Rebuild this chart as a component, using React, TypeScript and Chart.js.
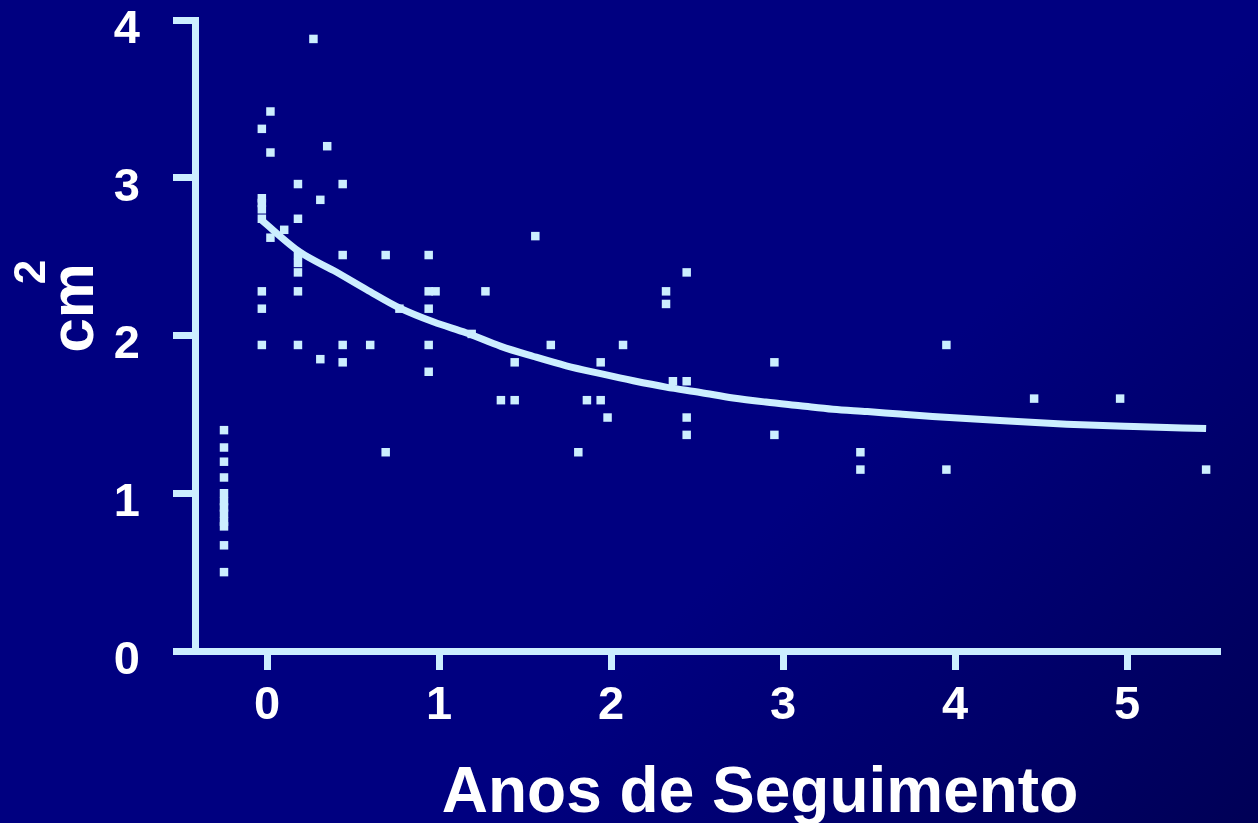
import React, { useEffect, useRef } from "react";
import { Chart, registerables } from "chart.js";

Chart.register(...registerables);

// ---- data ----
const xTickValues = [0, 1, 2, 3, 4, 5];
const yTickValues = [0, 1, 2, 3, 4];
const xTitle = "Anos de Seguimento";
const yTitleMain = "cm";
const yTitleSup = "2";

// scatter observations (years of follow-up, area cm²)
const obsX = [
  -0.25, -0.25, -0.25, -0.25, -0.25, -0.25, -0.25, -0.25, -0.25, -0.25, -0.25, -0.25,
  -0.03, -0.03, -0.03, -0.03, -0.03, -0.03, -0.03, -0.03,
  0.02, 0.02, 0.02,
  0.1,
  0.18, 0.18, 0.18, 0.18, 0.18, 0.18, 0.18,
  0.27, 0.35, 0.31, 0.31,
  0.44, 0.44, 0.44, 0.44,
  0.6, 0.69, 0.69, 0.77,
  0.94, 0.94, 0.94, 0.94, 0.94, 0.98,
  1.19, 1.27, 1.36, 1.44, 1.44, 1.56, 1.65,
  1.81, 1.86, 1.94, 1.94, 1.98, 2.07,
  2.32, 2.32, 2.36, 2.44, 2.44, 2.44, 2.44,
  2.95, 2.95, 3.45, 3.45, 3.95, 3.95, 4.46, 4.96, 5.46,
];
const obsY = [
  1.4, 1.29, 1.2, 1.1, 1.0, 0.95, 0.91, 0.87, 0.82, 0.79, 0.67, 0.5,
  3.31, 2.87, 2.84, 2.8, 2.74, 2.28, 2.17, 1.94,
  3.42, 3.16, 2.62,
  2.67,
  2.96, 2.74, 2.51, 2.46, 2.4, 2.28, 1.94,
  3.88, 3.2, 2.86, 1.85,
  2.96, 2.51, 1.94, 1.83,
  1.94, 2.51, 1.26, 2.17,
  2.51, 2.28, 2.17, 1.94, 1.77, 2.28,
  2.01, 2.28, 1.59, 1.83, 1.59, 2.63, 1.94,
  1.26, 1.59, 1.83, 1.59, 1.48, 1.94,
  2.28, 2.2, 1.71, 2.4, 1.71, 1.48, 1.37,
  1.83, 1.37, 1.26, 1.15, 1.94, 1.15, 1.6, 1.6, 1.15,
];

// fitted trend curve
const trendX = [-0.03, 0.19, 0.39, 0.58, 0.77, 0.97, 1.16, 1.36, 1.55, 1.74, 1.94, 2.13, 2.32, 2.52, 2.71, 2.9, 3.1, 3.29, 3.49, 3.68, 3.87, 4.26, 4.65, 5.04, 5.46];
const trendY = [2.73, 2.53, 2.41, 2.29, 2.175, 2.085, 2.016, 1.931, 1.867, 1.808, 1.758, 1.713, 1.673, 1.639, 1.604, 1.578, 1.555, 1.533, 1.518, 1.502, 1.487, 1.461, 1.438, 1.423, 1.41];

const LIGHT = "#CCEEFF";
const FONT = "'Liberation Sans', Arial, Helvetica, sans-serif";

const titlePlugin = {
  id: "customTitles",
  afterDraw(chart: any) {
    const ctx = chart.ctx as CanvasRenderingContext2D;
    ctx.save();
    ctx.fillStyle = "#FFFFFF";
    ctx.textAlign = "center";
    ctx.textBaseline = "alphabetic";
    ctx.font = `bold 64px ${FONT}`;
    ctx.fillText(xTitle, 760, 812);
    ctx.restore();

    ctx.save();
    ctx.fillStyle = "#FFFFFF";
    ctx.textAlign = "center";
    ctx.textBaseline = "alphabetic";
    ctx.translate(93, 308);
    ctx.rotate(-Math.PI / 2);
    ctx.font = `bold 62px ${FONT}`;
    ctx.fillText(yTitleMain, 0, 0);
    ctx.restore();

    ctx.save();
    ctx.fillStyle = "#FFFFFF";
    ctx.textAlign = "center";
    ctx.textBaseline = "alphabetic";
    ctx.translate(45, 272);
    ctx.rotate(-Math.PI / 2);
    ctx.font = `bold 44px ${FONT}`;
    ctx.fillText(yTitleSup, 0, 0);
    ctx.restore();
  },
};

export default function App() {
  const canvasRef = useRef<HTMLCanvasElement | null>(null);

  useEffect(() => {
    if (!canvasRef.current) return;
    const scatterData = obsX.map((x, i) => ({ x, y: obsY[i] }));
    const trendData = trendX.map((x, i) => ({ x, y: trendY[i] }));

    const chart = new Chart(canvasRef.current, {
      type: "scatter",
      data: {
        datasets: [
          {
            type: "scatter",
            data: scatterData,
            pointStyle: "rect",
            radius: 6,
            pointRadius: 6,
            pointHoverRadius: 6,
            pointBackgroundColor: LIGHT,
            pointBorderColor: LIGHT,
            pointBorderWidth: 0,
            order: 2,
          } as any,
          {
            type: "line",
            data: trendData,
            showLine: true,
            borderColor: LIGHT,
            borderWidth: 7,
            pointRadius: 0,
            fill: false,
            cubicInterpolationMode: "monotone",
            order: 1,
          } as any,
        ],
      },
      options: {
        animation: false,
        responsive: true,
        maintainAspectRatio: false,
        layout: { padding: { top: 20, right: 41, left: 0, bottom: 0 } },
        plugins: { legend: { display: false }, tooltip: { enabled: false } },
        scales: {
          x: {
            type: "linear",
            min: -72 / 172,
            max: 950 / 172,
            afterFit: (s: any) => {
              s.height = 172;
              s.paddingLeft = 0;
              s.paddingRight = 0;
              s.paddingTop = 0;
              s.paddingBottom = 0;
            },
            afterBuildTicks: (s: any) => {
              s.ticks = xTickValues.map((v) => ({ value: v }));
            },
            border: { display: true, color: LIGHT, width: 7 },
            grid: {
              display: true,
              drawOnChartArea: false,
              drawTicks: true,
              tickLength: 19,
              lineWidth: 7,
              color: LIGHT,
              tickColor: LIGHT,
            },
            ticks: {
              color: "#FFFFFF",
              font: { family: FONT, size: 47, weight: "bold" },
              padding: 8,
              maxRotation: 0,
              autoSkip: false,
              callback: (v: any) => String(v),
            },
          },
          y: {
            type: "linear",
            min: 0,
            max: 4,
            afterFit: (s: any) => {
              s.width = 195;
              s.paddingLeft = 0;
              s.paddingRight = 0;
              s.paddingTop = 0;
              s.paddingBottom = 0;
            },
            afterBuildTicks: (s: any) => {
              s.ticks = yTickValues.map((v) => ({ value: v }));
            },
            border: { display: true, color: LIGHT, width: 7 },
            grid: {
              display: true,
              drawOnChartArea: false,
              drawTicks: true,
              tickLength: 22,
              lineWidth: 7,
              color: LIGHT,
              tickColor: LIGHT,
            },
            ticks: {
              color: "#FFFFFF",
              font: { family: FONT, size: 47, weight: "bold" },
              padding: 33,
              labelOffset: 10,
              autoSkip: false,
              callback: (v: any) => String(v),
            },
          },
        },
      },
      plugins: [titlePlugin],
    });
    return () => chart.destroy();
  }, []);

  return (
    <div
      style={{
        position: "absolute",
        left: 0,
        top: 0,
        width: 1258,
        height: 823,
        background: "linear-gradient(135deg, #000080 0%, #000080 62%, #000056 100%)",
      }}
    >
      <canvas ref={canvasRef} />
    </div>
  );
}
